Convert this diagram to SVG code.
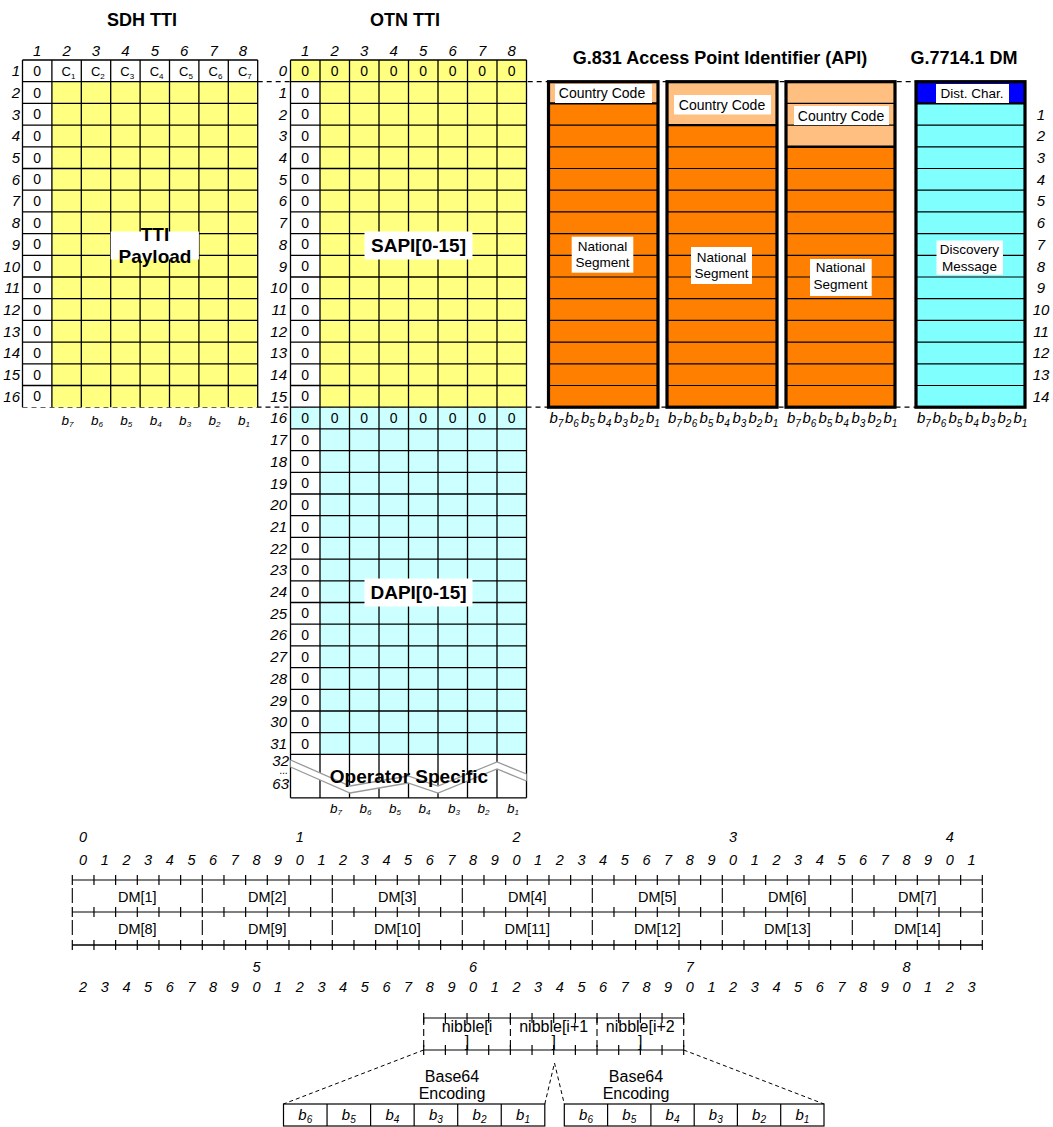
<svg xmlns="http://www.w3.org/2000/svg" width="1053" height="1127" viewBox="0 0 1053 1127">
<style>
text{font-family:"Liberation Sans",Arial,Helvetica,sans-serif;fill:#000}
.t{font-size:18px;font-weight:bold;text-anchor:middle}
.big{font-size:19px;font-weight:bold;text-anchor:middle}
.ie{font-style:italic;font-size:15px;text-anchor:end}
.im{font-style:italic;font-size:15px;text-anchor:middle}
.rm{font-style:italic;font-size:14.5px;text-anchor:middle}
.z{font-size:14px;text-anchor:middle}
.c{font-size:13px}
.s{font-size:13.5px;text-anchor:middle}
.cc{font-size:14px;text-anchor:middle}
.dm{font-size:14.5px;text-anchor:middle}
.nb{font-size:16px;text-anchor:middle}
.bs{font-style:italic;font-size:13.5px;text-anchor:middle}
.bl{font-style:italic;font-size:15px}
.bm{font-style:italic;font-size:15px;text-anchor:middle}
.sub{font-size:8px}
.sub2{font-size:10px}
.grid{fill:none;stroke:#000;stroke-width:1.3}
.thin{fill:none;stroke:#000;stroke-width:1.2}
.thick{fill:none;stroke:#000;stroke-width:3.2}
.mid{fill:none;stroke:#000;stroke-width:2.4}
.dash{fill:none;stroke:#000;stroke-width:1.2;stroke-dasharray:5 4}
.lbl{fill:#fff}
.yel{fill:#FFFF80}
.lcy{fill:#CCFFFF}
.org{fill:#FF8000}
.lor{fill:#FFBF80}
.cya{fill:#80FFFF}
.blu{fill:#0000FF}
.wht{fill:#fff}
</style>

<g id="connectors">
<path class="dash" d="M257.7 81.7H916"/>
<path class="dash" d="M22.5 407.2H916"/>
</g>

<g id="sdh-tti">
<text class="t" x="142" y="26">SDH TTI</text>
<rect class="wht" x="22.5" y="60" width="235.2" height="21.7"/>
<rect class="wht" x="22.5" y="81.7" width="29.4" height="325.5"/>
<rect class="yel" x="51.9" y="81.7" width="205.8" height="325.5"/>
<path class="grid" d="M22.5 60V407.2M51.9 60V407.2M81.3 60V407.2M110.7 60V407.2M140.1 60V407.2M169.5 60V407.2M198.9 60V407.2M228.3 60V407.2M257.7 60V407.2M22.5 60H257.7M22.5 81.7H257.7M22.5 103.4H257.7M22.5 125.1H257.7M22.5 146.8H257.7M22.5 168.5H257.7M22.5 190.2H257.7M22.5 211.9H257.7M22.5 233.6H257.7M22.5 255.3H257.7M22.5 277H257.7M22.5 298.7H257.7M22.5 320.4H257.7M22.5 342.1H257.7M22.5 363.8H257.7M22.5 385.5H257.7"/>
<text class="im" x="37.2 66.6 96 125.4 154.8 184.2 213.6 243" y="56">12345678</text>
<text class="ie"><tspan x="20" y="76.2">1</tspan><tspan x="20" y="97.9">2</tspan><tspan x="20" y="119.6">3</tspan><tspan x="20" y="141.3">4</tspan><tspan x="20" y="163">5</tspan><tspan x="20" y="184.7">6</tspan><tspan x="20" y="206.4">7</tspan><tspan x="20" y="228.1">8</tspan><tspan x="20" y="249.8">9</tspan><tspan x="20" y="271.5">10</tspan><tspan x="20" y="293.2">11</tspan><tspan x="20" y="314.9">12</tspan><tspan x="20" y="336.6">13</tspan><tspan x="20" y="358.3">14</tspan><tspan x="20" y="380">15</tspan><tspan x="20" y="401.7">16</tspan></text>
<text class="z" x="37.2 37.2 37.2 37.2 37.2 37.2 37.2 37.2 37.2 37.2 37.2 37.2 37.2 37.2 37.2 37.2" y="75.85 97.55 119.25 140.95 162.65 184.35 206.05 227.75 249.45 271.15 292.85 314.55 336.25 357.95 379.65 401.35">0000000000000000</text>
<text class="c" x="61.5" y="76">C<tspan class="sub" dy="3">1</tspan></text>
<text class="c" x="90.9" y="76">C<tspan class="sub" dy="3">2</tspan></text>
<text class="c" x="120.3" y="76">C<tspan class="sub" dy="3">3</tspan></text>
<text class="c" x="149.7" y="76">C<tspan class="sub" dy="3">4</tspan></text>
<text class="c" x="179.1" y="76">C<tspan class="sub" dy="3">5</tspan></text>
<text class="c" x="208.5" y="76">C<tspan class="sub" dy="3">6</tspan></text>
<text class="c" x="237.9" y="76">C<tspan class="sub" dy="3">7</tspan></text>
<rect class="lbl" x="110.7" y="231.5" width="88.2" height="28"/>
<text class="big" x="155" y="241">TTI</text>
<text class="big" x="155" y="263">Payload</text>
<text class="bs" x="67.5" y="425">b<tspan class="sub" dy="2">7</tspan></text>
<text class="bs" x="96.9" y="425">b<tspan class="sub" dy="2">6</tspan></text>
<text class="bs" x="126.3" y="425">b<tspan class="sub" dy="2">5</tspan></text>
<text class="bs" x="155.7" y="425">b<tspan class="sub" dy="2">4</tspan></text>
<text class="bs" x="185.1" y="425">b<tspan class="sub" dy="2">3</tspan></text>
<text class="bs" x="214.5" y="425">b<tspan class="sub" dy="2">2</tspan></text>
<text class="bs" x="243.9" y="425">b<tspan class="sub" dy="2">1</tspan></text>
</g>

<g id="otn-tti">
<text class="t" x="405" y="26">OTN TTI</text>
<rect class="yel" x="290.5" y="60" width="236" height="21.7"/>
<rect class="wht" x="290.5" y="81.7" width="29.5" height="325.5"/>
<rect class="yel" x="320" y="81.7" width="206.5" height="325.5"/>
<rect class="lcy" x="290.5" y="407.2" width="236" height="21.7"/>
<rect class="wht" x="290.5" y="428.9" width="29.5" height="325.5"/>
<rect class="lcy" x="320" y="428.9" width="206.5" height="325.5"/>
<rect class="wht" x="290.5" y="754.4" width="236" height="43.4"/>
<path class="grid" d="M290.5 60V797.8M320 60V797.8M349.5 60V797.8M379 60V797.8M408.5 60V797.8M438 60V797.8M467.5 60V797.8M497 60V797.8M526.5 60V797.8M290.5 60H526.5M290.5 81.7H526.5M290.5 103.4H526.5M290.5 125.1H526.5M290.5 146.8H526.5M290.5 168.5H526.5M290.5 190.2H526.5M290.5 211.9H526.5M290.5 233.6H526.5M290.5 255.3H526.5M290.5 277H526.5M290.5 298.7H526.5M290.5 320.4H526.5M290.5 342.1H526.5M290.5 363.8H526.5M290.5 385.5H526.5M290.5 407.2H526.5M290.5 428.9H526.5M290.5 450.6H526.5M290.5 472.3H526.5M290.5 494H526.5M290.5 515.7H526.5M290.5 537.4H526.5M290.5 559.1H526.5M290.5 580.8H526.5M290.5 602.5H526.5M290.5 624.2H526.5M290.5 645.9H526.5M290.5 667.6H526.5M290.5 689.3H526.5M290.5 711H526.5M290.5 732.7H526.5M290.5 754.4H526.5M290.5 797.8H526.5"/>
<text class="im" x="305.25 334.75 364.25 393.75 423.25 452.75 482.25 511.75" y="56">12345678</text>
<text class="ie"><tspan x="287" y="76.2">0</tspan><tspan x="287" y="97.9">1</tspan><tspan x="287" y="119.6">2</tspan><tspan x="287" y="141.3">3</tspan><tspan x="287" y="163">4</tspan><tspan x="287" y="184.7">5</tspan><tspan x="287" y="206.4">6</tspan><tspan x="287" y="228.1">7</tspan><tspan x="287" y="249.8">8</tspan><tspan x="287" y="271.5">9</tspan><tspan x="287" y="293.2">10</tspan><tspan x="287" y="314.9">11</tspan><tspan x="287" y="336.6">12</tspan><tspan x="287" y="358.3">13</tspan><tspan x="287" y="380">14</tspan><tspan x="287" y="401.7">15</tspan><tspan x="287" y="423.4">16</tspan><tspan x="287" y="445.1">17</tspan><tspan x="287" y="466.8">18</tspan><tspan x="287" y="488.5">19</tspan><tspan x="287" y="510.2">20</tspan><tspan x="287" y="531.9">21</tspan><tspan x="287" y="553.6">22</tspan><tspan x="287" y="575.3">23</tspan><tspan x="287" y="597">24</tspan><tspan x="287" y="618.7">25</tspan><tspan x="287" y="640.4">26</tspan><tspan x="287" y="662.1">27</tspan><tspan x="287" y="683.8">28</tspan><tspan x="287" y="705.5">29</tspan><tspan x="287" y="727.2">30</tspan><tspan x="287" y="748.9">31</tspan><tspan x="289" y="766">32</tspan><tspan x="289" y="789">63</tspan></text>
<text x="288" y="774" style="font-size:10px;font-style:italic;text-anchor:end">...</text>
<text class="z" x="305.25 334.75 364.25 393.75 423.25 452.75 482.25 511.75" y="75.85">00000000</text>
<text class="z" x="305.25 334.75 364.25 393.75 423.25 452.75 482.25 511.75" y="423.05">00000000</text>
<text class="z" x="305.25 305.25 305.25 305.25 305.25 305.25 305.25 305.25 305.25 305.25 305.25 305.25 305.25 305.25 305.25" y="97.55 119.25 140.95 162.65 184.35 206.05 227.75 249.45 271.15 292.85 314.55 336.25 357.95 379.65 401.35">000000000000000</text>
<text class="z" x="305.25 305.25 305.25 305.25 305.25 305.25 305.25 305.25 305.25 305.25 305.25 305.25 305.25 305.25 305.25" y="444.75 466.45 488.15 509.85 531.55 553.25 574.95 596.65 618.35 640.05 661.75 683.45 705.15 726.85 748.55">000000000000000</text>
<rect class="lbl" x="364.5" y="231.5" width="108" height="28"/>
<text class="big" x="418.5" y="252">SAPI[0-15]</text>
<rect class="lbl" x="364.5" y="578.5" width="108" height="28"/>
<text class="big" x="418.5" y="599">DAPI[0-15]</text>
<polygon fill="#fff" points="290.5,760 350,786 408,776 438,786 497,762 526.5,774 526.5,781 497,769 438,793 408,783 350,793 290.5,767"/>
<polyline fill="none" stroke="#999" stroke-width="1.3" points="290.5,760 350,786 408,776 438,786 497,762 526.5,774"/>
<polyline fill="none" stroke="#999" stroke-width="1.3" points="290.5,767 350,793 408,783 438,793 497,769 526.5,781"/>
<text class="big" x="409" y="783">Operator Specific</text>
<text class="bs" x="336" y="813">b<tspan class="sub" dy="2">7</tspan></text>
<text class="bs" x="365.5" y="813">b<tspan class="sub" dy="2">6</tspan></text>
<text class="bs" x="395" y="813">b<tspan class="sub" dy="2">5</tspan></text>
<text class="bs" x="424.5" y="813">b<tspan class="sub" dy="2">4</tspan></text>
<text class="bs" x="454" y="813">b<tspan class="sub" dy="2">3</tspan></text>
<text class="bs" x="483.5" y="813">b<tspan class="sub" dy="2">2</tspan></text>
<text class="bs" x="513" y="813">b<tspan class="sub" dy="2">1</tspan></text>
</g>

<text class="t" x="720" y="64">G.831 Access Point Identifier (API)</text>
<text class="t" x="964" y="64">G.7714.1 DM</text>

<g id="api-1">
<rect class="lor" x="548.5" y="81.7" width="109.5" height="21.7"/>
<rect class="org" x="548.5" y="103.4" width="109.5" height="303.8"/>
<path class="thin" d="M548.5 125.1H658M548.5 146.8H658M548.5 168.5H658M548.5 190.2H658M548.5 211.9H658M548.5 233.6H658M548.5 255.3H658M548.5 277H658M548.5 298.7H658M548.5 320.4H658M548.5 342.1H658M548.5 363.8H658M548.5 385.5H658"/>
<path class="mid" d="M548.5 103.4H658"/>
<rect class="thick" x="548.5" y="81.7" width="109.5" height="325.5"/>
<rect class="lbl" x="555" y="84" width="97" height="19"/>
<text class="cc" x="602" y="98">Country Code</text>
<rect class="lbl" x="571.7" y="236.7" width="61.6" height="36"/>
<text class="s" x="602.5" y="250.7">National</text>
<text class="s" x="602.5" y="267">Segment</text>
<text class="bl" y="423"><tspan x="549.5">b</tspan><tspan class="sub2" dy="3.5">7</tspan><tspan x="565" dy="-3.5">b</tspan><tspan class="sub2" dy="3.5">6</tspan><tspan x="581" dy="-3.5">b</tspan><tspan class="sub2" dy="3.5">5</tspan><tspan x="597.5" dy="-3.5">b</tspan><tspan class="sub2" dy="3.5">4</tspan><tspan x="614" dy="-3.5">b</tspan><tspan class="sub2" dy="3.5">3</tspan><tspan x="630" dy="-3.5">b</tspan><tspan class="sub2" dy="3.5">2</tspan><tspan x="646" dy="-3.5">b</tspan><tspan class="sub2" dy="3.5">1</tspan></text>
</g>

<g id="api-2">
<rect class="lor" x="667" y="81.7" width="110" height="43.4"/>
<rect class="org" x="667" y="125.1" width="110" height="282.1"/>
<path class="thin" d="M667 146.8H777M667 168.5H777M667 190.2H777M667 211.9H777M667 233.6H777M667 255.3H777M667 277H777M667 298.7H777M667 320.4H777M667 342.1H777M667 363.8H777M667 385.5H777"/>
<path class="mid" d="M667 125.1H777"/>
<rect class="thick" x="667" y="81.7" width="110" height="325.5"/>
<rect class="lbl" x="674" y="95" width="97" height="19.5"/>
<text class="cc" x="722" y="109.5">Country Code</text>
<rect class="lbl" x="691" y="247" width="61" height="37"/>
<text class="s" x="721.5" y="261.7">National</text>
<text class="s" x="721.5" y="278.3">Segment</text>
<text class="bl" y="423"><tspan x="668">b</tspan><tspan class="sub2" dy="3.5">7</tspan><tspan x="683.5" dy="-3.5">b</tspan><tspan class="sub2" dy="3.5">6</tspan><tspan x="699.5" dy="-3.5">b</tspan><tspan class="sub2" dy="3.5">5</tspan><tspan x="716" dy="-3.5">b</tspan><tspan class="sub2" dy="3.5">4</tspan><tspan x="732.5" dy="-3.5">b</tspan><tspan class="sub2" dy="3.5">3</tspan><tspan x="748.5" dy="-3.5">b</tspan><tspan class="sub2" dy="3.5">2</tspan><tspan x="764.5" dy="-3.5">b</tspan><tspan class="sub2" dy="3.5">1</tspan></text>
</g>

<g id="api-3">
<rect class="lor" x="786" y="81.7" width="109" height="65.1"/>
<rect class="org" x="786" y="146.8" width="109" height="260.4"/>
<path class="thin" d="M786 103.4H895M786 125.1H895M786 168.5H895M786 190.2H895M786 211.9H895M786 233.6H895M786 255.3H895M786 277H895M786 298.7H895M786 320.4H895M786 342.1H895M786 363.8H895M786 385.5H895"/>
<path class="mid" d="M786 146.8H895"/>
<rect class="thick" x="786" y="81.7" width="109" height="325.5"/>
<rect class="lbl" x="794" y="106" width="95" height="19"/>
<text class="cc" x="841" y="120.5">Country Code</text>
<rect class="lbl" x="810" y="259" width="61.7" height="37"/>
<text class="s" x="840.5" y="272.3">National</text>
<text class="s" x="840.5" y="289">Segment</text>
<text class="bl" y="423"><tspan x="787">b</tspan><tspan class="sub2" dy="3.5">7</tspan><tspan x="802.5" dy="-3.5">b</tspan><tspan class="sub2" dy="3.5">6</tspan><tspan x="818.5" dy="-3.5">b</tspan><tspan class="sub2" dy="3.5">5</tspan><tspan x="835" dy="-3.5">b</tspan><tspan class="sub2" dy="3.5">4</tspan><tspan x="851.5" dy="-3.5">b</tspan><tspan class="sub2" dy="3.5">3</tspan><tspan x="867.5" dy="-3.5">b</tspan><tspan class="sub2" dy="3.5">2</tspan><tspan x="883.5" dy="-3.5">b</tspan><tspan class="sub2" dy="3.5">1</tspan></text>
</g>

<g id="dm">
<rect class="blu" x="916" y="81.7" width="109" height="21.7"/>
<rect class="cya" x="916" y="103.4" width="109" height="303.8"/>
<path class="thin" d="M916 125.1H1025M916 146.8H1025M916 168.5H1025M916 190.2H1025M916 211.9H1025M916 233.6H1025M916 255.3H1025M916 277H1025M916 298.7H1025M916 320.4H1025M916 342.1H1025M916 363.8H1025M916 385.5H1025"/>
<path class="mid" d="M916 103.4H1025"/>
<rect class="thick" x="916" y="81.7" width="109" height="325.5"/>
<rect class="lbl" x="936" y="84" width="73" height="19"/>
<text class="s" x="972" y="98">Dist. Char.</text>
<rect class="lbl" x="936.5" y="240.5" width="66.5" height="34.5"/>
<text class="s" x="969.5" y="253.5">Discovery</text>
<text class="s" x="969.5" y="270.5">Message</text>
<text class="im"><tspan x="1041" y="119.6">1</tspan><tspan x="1041" y="141.3">2</tspan><tspan x="1041" y="163">3</tspan><tspan x="1041" y="184.7">4</tspan><tspan x="1041" y="206.4">5</tspan><tspan x="1041" y="228.1">6</tspan><tspan x="1041" y="249.8">7</tspan><tspan x="1041" y="271.5">8</tspan><tspan x="1041" y="293.2">9</tspan><tspan x="1041" y="314.9">10</tspan><tspan x="1041" y="336.6">11</tspan><tspan x="1041" y="358.3">12</tspan><tspan x="1041" y="380">13</tspan><tspan x="1041" y="401.7">14</tspan></text>
<text class="bl" y="423"><tspan x="917">b</tspan><tspan class="sub2" dy="3.5">7</tspan><tspan x="932.5" dy="-3.5">b</tspan><tspan class="sub2" dy="3.5">6</tspan><tspan x="948.5" dy="-3.5">b</tspan><tspan class="sub2" dy="3.5">5</tspan><tspan x="965" dy="-3.5">b</tspan><tspan class="sub2" dy="3.5">4</tspan><tspan x="981.5" dy="-3.5">b</tspan><tspan class="sub2" dy="3.5">3</tspan><tspan x="997.5" dy="-3.5">b</tspan><tspan class="sub2" dy="3.5">2</tspan><tspan x="1013.5" dy="-3.5">b</tspan><tspan class="sub2" dy="3.5">1</tspan></text>
</g>

<g id="bit-ruler">
<path d="M72.3 880H982.3M72.3 912H982.3" stroke="#555" stroke-width="1.3" fill="none"/>
<path d="M72.3 945H982.3" stroke="#000" stroke-width="1.3" fill="none"/>
<path d="M71.7 880H982.9M71.7 912H982.9M71.7 945H982.9" stroke="#000" stroke-width="10" stroke-dasharray="1.2 20.467" fill="none"/>
<path d="M72.3 888V935M202.3 888V935M332.3 888V935M462.3 888V935M592.3 888V935M722.3 888V935M852.3 888V935M982.3 888V935" stroke="#000" stroke-width="1.1" stroke-dasharray="15 17" fill="none"/>
<text class="rm" x="83.1 299.8 516.5 733.1 949.8" y="842">01234</text>
<text class="rm" x="83.1 104.8 126.5 148.1 169.8 191.5 213.1 234.8 256.5 278.1 299.8 321.5 343.1 364.8 386.5 408.1 429.8 451.5 473.1 494.8 516.5 538.1 559.8 581.5 603.1 624.8 646.5 668.1 689.8 711.5 733.1 754.8 776.5 798.1 819.8 841.5 863.1 884.8 906.5 928.1 949.8 971.5" y="865">012345678901234567890123456789012345678901</text>
<text class="rm" x="256.5 473.1 689.8 906.5" y="972">5678</text>
<text class="rm" x="83.1 104.8 126.5 148.1 169.8 191.5 213.1 234.8 256.5 278.1 299.8 321.5 343.1 364.8 386.5 408.1 429.8 451.5 473.1 494.8 516.5 538.1 559.8 581.5 603.1 624.8 646.5 668.1 689.8 711.5 733.1 754.8 776.5 798.1 819.8 841.5 863.1 884.8 906.5 928.1 949.8 971.5" y="992">234567890123456789012345678901234567890123</text>
<text class="dm" x="137.3" y="901.5">DM[1]</text>
<text class="dm" x="267.3" y="901.5">DM[2]</text>
<text class="dm" x="397.3" y="901.5">DM[3]</text>
<text class="dm" x="527.3" y="901.5">DM[4]</text>
<text class="dm" x="657.3" y="901.5">DM[5]</text>
<text class="dm" x="787.3" y="901.5">DM[6]</text>
<text class="dm" x="917.3" y="901.5">DM[7]</text>
<text class="dm" x="137.3" y="934">DM[8]</text>
<text class="dm" x="267.3" y="934">DM[9]</text>
<text class="dm" x="397.3" y="934">DM[10]</text>
<text class="dm" x="527.3" y="934">DM[11]</text>
<text class="dm" x="657.3" y="934">DM[12]</text>
<text class="dm" x="787.3" y="934">DM[13]</text>
<text class="dm" x="917.3" y="934">DM[14]</text>
</g>

<g id="nibbles">
<path d="M423.7 1018H683.7M423.7 1050H683.7" stroke="#000" stroke-width="1.2" fill="none"/>
<path d="M423.1 1018H684.3M423.1 1050H684.3" stroke="#000" stroke-width="10" stroke-dasharray="1.2 20.467" fill="none"/>
<path d="M423.7 1018V1050M510.4 1018V1050M597 1018V1050M683.7 1018V1050" stroke="#000" stroke-width="1.1" stroke-dasharray="7 4" fill="none"/>
<text class="nb" x="467" y="1032">nibble[i</text>
<text class="nb" x="467" y="1047">]</text>
<text class="nb" x="553.7" y="1032">nibble[i+1</text>
<text class="nb" x="553.7" y="1047">]</text>
<text class="nb" x="640.3" y="1032">nibble[i+2</text>
<text class="nb" x="640.3" y="1047">]</text>
</g>

<g id="expansion-connectors">
<path d="M423.7 1050L283.5 1104M683.7 1050L824 1104M544.8 1104L554.5 1063L564.3 1104" stroke="#000" stroke-width="1" stroke-dasharray="4 3" fill="none"/>
</g>

<g id="base64-left">
<text class="nb" x="452" y="1082">Base64</text>
<text class="nb" x="452" y="1099">Encoding</text>
<rect x="283.5" y="1104" width="261.3" height="22" fill="#fff" stroke="#000" stroke-width="1.2"/>
<path class="thin" d="M327.05 1104V1126M370.6 1104V1126M414.15 1104V1126M457.7 1104V1126M501.25 1104V1126"/>
<text class="bm" x="305.3" y="1120">b<tspan class="sub2" dy="3">6</tspan></text>
<text class="bm" x="348.8" y="1120">b<tspan class="sub2" dy="3">5</tspan></text>
<text class="bm" x="392.4" y="1120">b<tspan class="sub2" dy="3">4</tspan></text>
<text class="bm" x="435.9" y="1120">b<tspan class="sub2" dy="3">3</tspan></text>
<text class="bm" x="479.5" y="1120">b<tspan class="sub2" dy="3">2</tspan></text>
<text class="bm" x="523" y="1120">b<tspan class="sub2" dy="3">1</tspan></text>
</g>

<g id="base64-right">
<text class="nb" x="636" y="1082">Base64</text>
<text class="nb" x="636" y="1099">Encoding</text>
<rect x="564.3" y="1104" width="259.7" height="22" fill="#fff" stroke="#000" stroke-width="1.2"/>
<path class="thin" d="M607.6 1104V1126M650.9 1104V1126M694.2 1104V1126M737.4 1104V1126M780.7 1104V1126"/>
<text class="bm" x="586" y="1120">b<tspan class="sub2" dy="3">6</tspan></text>
<text class="bm" x="629.3" y="1120">b<tspan class="sub2" dy="3">5</tspan></text>
<text class="bm" x="672.5" y="1120">b<tspan class="sub2" dy="3">4</tspan></text>
<text class="bm" x="715.8" y="1120">b<tspan class="sub2" dy="3">3</tspan></text>
<text class="bm" x="759" y="1120">b<tspan class="sub2" dy="3">2</tspan></text>
<text class="bm" x="802.4" y="1120">b<tspan class="sub2" dy="3">1</tspan></text>
</g>
</svg>
